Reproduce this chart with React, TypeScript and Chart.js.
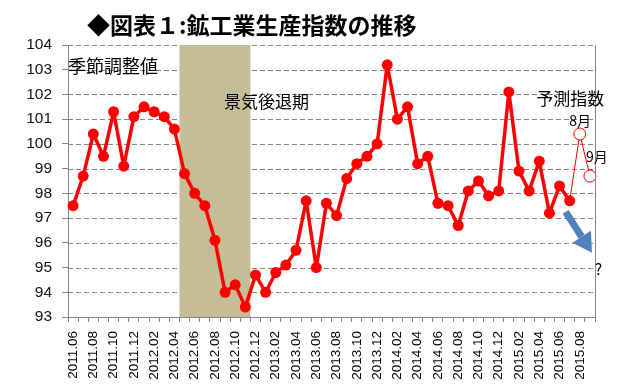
import React, { useEffect, useRef } from "react";
import { Chart, registerables } from "chart.js";

Chart.register(...registerables);

const months = [
  "2011.06", "2011.07", "2011.08", "2011.09", "2011.10", "2011.11", "2011.12",
  "2012.01", "2012.02", "2012.03", "2012.04", "2012.05", "2012.06", "2012.07", "2012.08", "2012.09", "2012.10", "2012.11", "2012.12",
  "2013.01", "2013.02", "2013.03", "2013.04", "2013.05", "2013.06", "2013.07", "2013.08", "2013.09", "2013.10", "2013.11", "2013.12",
  "2014.01", "2014.02", "2014.03", "2014.04", "2014.05", "2014.06", "2014.07", "2014.08", "2014.09", "2014.10", "2014.11", "2014.12",
  "2015.01", "2015.02", "2015.03", "2015.04", "2015.05", "2015.06", "2015.07", "2015.08", "2015.09",
];

const actualValues = [
  97.5, 98.7, 100.4, 99.5, 101.3, 99.1, 101.1,
  101.5, 101.3, 101.1, 100.6, 98.8, 98.0, 97.5, 96.1, 94.0, 94.3, 93.4, 94.7,
  94.0, 94.8, 95.1, 95.7, 97.7, 95.0, 97.6, 97.1, 98.6, 99.2, 99.5, 100.0,
  103.2, 101.0, 101.5, 99.2, 99.5, 97.6, 97.5, 96.7, 98.1, 98.5, 97.9, 98.1,
  102.1, 98.9, 98.1, 99.3, 97.2, 98.3, 97.7,
];

const forecastMonths = ["2015.07", "2015.08", "2015.09"];
const forecastValues = [97.7, 100.4, 98.7];

const recessionStart = "2012.05";
const recessionEnd = "2012.11";

const yMin = 93;
const yMax = 104;

const titleText = "◆図表１:鉱工業生産指数の推移";

const JP = '"Noto Sans CJK JP", "Noto Sans", sans-serif';
const NUM = '"Liberation Sans", Arial, sans-serif';

const overlayPlugin = {
  id: "overlay",
  beforeDatasetsDraw(chart: any) {
    const { ctx, chartArea, scales } = chart;
    const x = scales.x;
    const y = scales.y;
    ctx.save();
    // dashed horizontal grid lines
    ctx.strokeStyle = "#868686";
    ctx.lineWidth = 1;
    ctx.setLineDash([5, 3]);
    y.ticks.forEach((t: any) => {
      if (t.value === yMin) return;
      const py = Math.round(y.getPixelForValue(t.value)) + 0.5;
      ctx.beginPath();
      ctx.moveTo(chartArea.left, py);
      ctx.lineTo(chartArea.right, py);
      ctx.stroke();
    });
    ctx.setLineDash([]);
    // recession shading
    const step = x.getPixelForValue(1) - x.getPixelForValue(0);
    const i0 = months.indexOf(recessionStart);
    const i1 = months.indexOf(recessionEnd);
    const left = x.getPixelForValue(i0) - step / 2;
    const right = x.getPixelForValue(i1) + step / 2;
    ctx.fillStyle = "#C4BD97";
    ctx.fillRect(left, chartArea.top, right - left, chartArea.bottom - chartArea.top);
    ctx.restore();
  },
  afterDraw(chart: any) {
    const { ctx, chartArea, scales } = chart;
    const x = scales.x;
    const y = scales.y;
    ctx.save();
    // right border
    ctx.strokeStyle = "#868686";
    ctx.lineWidth = 1;
    ctx.beginPath();
    ctx.moveTo(Math.round(chartArea.right) + 0.5, chartArea.top);
    ctx.lineTo(Math.round(chartArea.right) + 0.5, chartArea.bottom + 5);
    ctx.stroke();

    // title
    ctx.fillStyle = "#000";
    ctx.textBaseline = "middle";
    ctx.textAlign = "left";
    ctx.font = `bold 23px ${JP}`;
    ctx.fillText(titleText, 87, 25, 336);

    // annotations
    const put = (text: string, xi: number, yv: number, size: number) => {
      ctx.font = `${size}px ${JP}`;
      ctx.fillText(text, x.getPixelForValue(xi), y.getPixelForValue(yv));
    };
    ctx.fillStyle = "#000";
    put("季節調整値", -0.5, 103.15, 18);
    put("景気後退期", 14.9, 101.7, 17);
    put("予測指数", 45.7, 101.85, 17);
    put("8月", 48.96, 100.92, 14);
    put("9月", 50.6, 99.5, 14);
    put("?", 51.5, 94.93, 15);

    // arrow
    const ax0 = x.getPixelForValue(48.6), ay0 = y.getPixelForValue(97.25);
    const ax1 = x.getPixelForValue(51.2), ay1 = y.getPixelForValue(95.6);
    const ang = Math.atan2(ay1 - ay0, ax1 - ax0);
    const headLen = 19;
    const headW = 11;
    const bx = ax1 - headLen * Math.cos(ang);
    const by = ay1 - headLen * Math.sin(ang);
    ctx.strokeStyle = "#4F81BD";
    ctx.fillStyle = "#4F81BD";
    ctx.lineWidth = 7;
    ctx.lineCap = "butt";
    ctx.beginPath();
    ctx.moveTo(ax0, ay0);
    ctx.lineTo(bx, by);
    ctx.stroke();
    ctx.beginPath();
    ctx.moveTo(ax1, ay1);
    ctx.lineTo(bx + headW * Math.sin(ang), by - headW * Math.cos(ang));
    ctx.lineTo(bx - headW * Math.sin(ang), by + headW * Math.cos(ang));
    ctx.closePath();
    ctx.fill();
    ctx.restore();
  },
};

export default function App() {
  const ref = useRef<HTMLCanvasElement | null>(null);
  useEffect(() => {
    document.body.style.margin = "0";
    const canvas = ref.current;
    if (!canvas) return;
    const chart = new Chart(canvas, {
      type: "line",
      data: {
        labels: months,
        datasets: [
          {
            label: "actual",
            data: actualValues,
            borderColor: "#FF0000",
            backgroundColor: "#FF0000",
            borderWidth: 3.5,
            borderJoinStyle: "round",
            pointRadius: 5.5,
            pointBorderWidth: 0,
            pointBackgroundColor: "#FF0000",
            tension: 0,
          },
          {
            label: "forecast",
            data: forecastMonths.map((m, i) => ({ x: m, y: forecastValues[i] })),
            borderColor: "#FF0000",
            borderWidth: 1,
            pointRadius: [0, 6, 6],
            pointBorderWidth: 1,
            pointBorderColor: "#FF0000",
            pointBackgroundColor: "#FFFFFF",
            tension: 0,
          },
        ],
      },
      options: {
        animation: false,
        responsive: false,
        devicePixelRatio: 1,
        layout: { padding: { left: 0, right: 23, top: 45, bottom: 0 } },
        plugins: {
          legend: { display: false },
          title: { display: false },
          tooltip: { enabled: false },
        },
        scales: {
          x: {
            type: "category",
            offset: true,
            grid: {
              offset: true,
              drawOnChartArea: false,
              drawTicks: true,
              tickLength: 5,
              color: "#868686",
            },
            border: { display: true, color: "#868686", width: 1 },
            ticks: {
              autoSkip: false,
              maxRotation: 90,
              minRotation: 90,
              padding: 9,
              color: "#000",
              font: { family: NUM, size: 13.5 },
              callback: function (this: any, value: any, index: number) {
                return index % 2 === 0 ? this.getLabelForValue(value) : "";
              },
            },
            afterFit: (scale: any) => {
              scale.height = 71;
            },
          },
          y: {
            min: yMin,
            max: yMax,
            grid: {
              color: "#868686",
              lineWidth: 1,
              tickLength: 6,
              drawTicks: true,
              drawOnChartArea: false,
            },
            border: { display: true, color: "#868686", width: 1 },
            ticks: {
              stepSize: 1,
              padding: 10,
              color: "#111",
              font: { family: NUM, size: 15.5 },
            },
            afterFit: (scale: any) => {
              scale.width = 68;
            },
          },
        },
      },
      plugins: [overlayPlugin],
    });
    return () => chart.destroy();
  }, []);
  return (
    <div style={{ position: "fixed", left: 0, top: 0, width: 618, height: 388, background: "#fff" }}>
      <canvas ref={ref} width={618} height={388} style={{ width: 618, height: 388, display: "block" }} />
    </div>
  );
}
